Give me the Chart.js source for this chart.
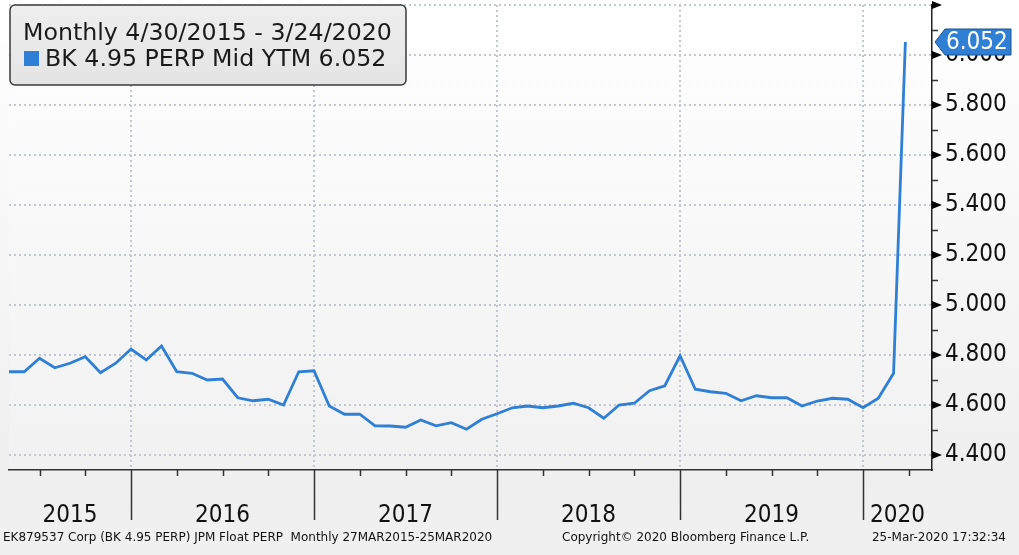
<!DOCTYPE html>
<html>
<head>
<meta charset="utf-8">
<script src="https://cdn.jsdelivr.net/npm/chart.js@4.4.1/dist/chart.umd.min.js"></script>
<style>
  html, body { margin: 0; padding: 0; background: #f0f0f0; }
  #wrap { width: 1019px; height: 555px; position: relative; }
</style>
</head>
<body>
<div id="wrap"><canvas id="chart" width="1019" height="555"></canvas></div>
<script>
// month-end observations, BK 4.95 PERP mid YTM
const dates = [
  "2015-04-30", "2015-05-31", "2015-06-30", "2015-07-31", "2015-08-31", "2015-09-30",
  "2015-10-31", "2015-11-30", "2015-12-31",
  "2016-01-31", "2016-02-29", "2016-03-31", "2016-04-30", "2016-05-31", "2016-06-30",
  "2016-07-31", "2016-08-31", "2016-09-30", "2016-10-31", "2016-11-30", "2016-12-31",
  "2017-01-31", "2017-02-28", "2017-03-31", "2017-04-30", "2017-05-31", "2017-06-30",
  "2017-07-31", "2017-08-31", "2017-09-30", "2017-10-31", "2017-11-30", "2017-12-31",
  "2018-01-31", "2018-02-28", "2018-03-31", "2018-04-30", "2018-05-31", "2018-06-30",
  "2018-07-31", "2018-08-31", "2018-09-30", "2018-10-31", "2018-11-30", "2018-12-31",
  "2019-01-31", "2019-02-28", "2019-03-31", "2019-04-30", "2019-05-31", "2019-06-30",
  "2019-07-31", "2019-08-31", "2019-09-30", "2019-10-31", "2019-11-30", "2019-12-31",
  "2020-01-31", "2020-02-29", "2020-03-24"
];
const ytm = [
  4.733, 4.733, 4.787, 4.749, 4.767, 4.793, 4.729, 4.767, 4.824,
  4.780, 4.836, 4.733, 4.727, 4.700, 4.704, 4.629, 4.617, 4.623, 4.600, 4.733, 4.737,
  4.596, 4.563, 4.563, 4.517, 4.516, 4.511, 4.540, 4.517, 4.529, 4.503, 4.543, 4.565,
  4.589, 4.596, 4.589, 4.596, 4.607, 4.589, 4.547, 4.600, 4.607, 4.657, 4.677, 4.797,
  4.663, 4.653, 4.647, 4.617, 4.637, 4.629, 4.629, 4.596, 4.616, 4.627, 4.623, 4.589,
  4.627, 4.727, 6.052
];
const years = [2015, 2016, 2017, 2018, 2019, 2020];
const legendTitle = "Monthly 4/30/2015 - 3/24/2020";
const seriesName = "BK 4.95 PERP Mid YTM";
const footerLeft = "EK879537 Corp (BK 4.95 PERP) JPM Float PERP  Monthly 27MAR2015-25MAR2020";
const footerMid = "Copyright\u00A9 2020 Bloomberg Finance L.P.";
const footerRight = "25-Mar-2020 17:32:34";

const AXIS_FONT = '"DejaVu Sans Condensed", "DejaVu Sans", sans-serif';
const TEXT_FONT = '"DejaVu Sans", sans-serif';
const BLUE = "#2f7fd4";

// months since 1 Jan 2015 (fractional, month-end = start of next month)
function monthPos(s) {
  const [y, m, d] = s.split("-").map(Number);
  const days = new Date(y, m, 0).getDate();
  return (y - 2015) * 12 + (m - 1) + d / days;
}

const points = dates.map((d, i) => ({ x: monthPos(d), y: ytm[i] }));

const bloombergDecor = {
  id: "bloombergDecor",
  beforeDraw(chart) {
    const { ctx, chartArea: a, width, height } = chart;
    ctx.save();
    const bg = ctx.createLinearGradient(0, 0, 0, height);
    bg.addColorStop(0, "#ffffff");
    bg.addColorStop(0.85, "#efefef");
    bg.addColorStop(1, "#f0f0f0");
    ctx.fillStyle = bg;
    ctx.fillRect(0, 0, width, height);
    const pg = ctx.createLinearGradient(0, a.top, 0, a.bottom);
    pg.addColorStop(0, "#ffffff");
    pg.addColorStop(1, "#f1f1f1");
    ctx.fillStyle = pg;
    ctx.fillRect(a.left, a.top, a.right - a.left, a.bottom - a.top);
    ctx.restore();
  },
  beforeDatasetsDraw(chart) {
    const { ctx, chartArea: a, scales } = chart;
    ctx.save();
    ctx.strokeStyle = "#c3c7d2";
    ctx.lineWidth = 2;
    ctx.setLineDash([2, 3]);
    scales.y.ticks.forEach(t => {
      const y = Math.round(scales.y.getPixelForValue(t.value));
      ctx.beginPath();
      ctx.moveTo(a.left, y);
      ctx.lineTo(a.right, y);
      ctx.stroke();
    });
    years.slice(1).forEach(yr => {
      const x = Math.round(scales.x.getPixelForValue((yr - 2015) * 12));
      ctx.beginPath();
      ctx.moveTo(x, a.top);
      ctx.lineTo(x, a.bottom);
      ctx.stroke();
    });
    ctx.restore();
  },
  afterDraw(chart) {
    const { ctx, chartArea: a, scales } = chart;
    const xs = scales.x, ys = scales.y;
    ctx.save();

    // quarter ticks and year separators under the time axis
    ctx.strokeStyle = "#333";
    ctx.lineWidth = 1.5;
    for (let q = 0; q <= 22; q++) {
      const m = q * 3;
      if (m < xs.min || m > xs.max) continue;
      const x = Math.round(xs.getPixelForValue(m)) + 0.5;
      ctx.beginPath();
      ctx.moveTo(x, a.bottom);
      ctx.lineTo(x, a.bottom + (m % 12 === 0 ? 50 : 6));
      ctx.stroke();
    }
    ctx.fillStyle = "#111";
    ctx.font = "24px " + AXIS_FONT;
    ctx.textAlign = "center";
    ctx.textBaseline = "alphabetic";
    years.forEach(yr => {
      const x0 = Math.max(xs.getPixelForValue((yr - 2015) * 12), a.left);
      const x1 = Math.min(xs.getPixelForValue((yr - 2014) * 12), a.right);
      ctx.fillText(String(yr), (x0 + x1) / 2, a.bottom + 52);
    });

    // right axis markers: arrow heads on major ticks, short minor ticks
    ctx.fillStyle = "#000";
    ys.ticks.forEach(t => {
      const y = ys.getPixelForValue(t.value);
      ctx.beginPath();
      ctx.moveTo(a.right, y - 4);
      ctx.lineTo(a.right + 10, y);
      ctx.lineTo(a.right, y + 4);
      ctx.closePath();
      ctx.fill();
      const ym = ys.getPixelForValue(t.value - 0.1);
      if (ym < a.bottom) {
        ctx.beginPath();
        ctx.moveTo(a.right, Math.round(ym) + 0.5);
        ctx.lineTo(a.right + 6, Math.round(ym) + 0.5);
        ctx.stroke();
      }
    });

    // last value tag
    const last = ytm[ytm.length - 1];
    const ty = ys.getPixelForValue(last);
    ctx.beginPath();
    ctx.moveTo(a.right + 3, ty);
    ctx.lineTo(a.right + 13, ty - 13);
    ctx.lineTo(1011, ty - 13);
    ctx.lineTo(1011, ty + 13);
    ctx.lineTo(a.right + 13, ty + 13);
    ctx.closePath();
    ctx.fillStyle = BLUE;
    ctx.fill();
    ctx.strokeStyle = "#1d548f";
    ctx.lineWidth = 1;
    ctx.stroke();
    ctx.fillStyle = "#fff";
    ctx.font = "24px " + AXIS_FONT;
    ctx.textAlign = "left";
    ctx.textBaseline = "middle";
    ctx.fillText(last.toFixed(3), a.right + 14, ty + 1);

    // legend box
    const bx = 10, by = 5, bw = 396, bh = 80;
    ctx.beginPath();
    ctx.roundRect(bx, by, bw, bh, 5);
    const lg = ctx.createLinearGradient(0, by, 0, by + bh);
    lg.addColorStop(0, "#eeeeee");
    lg.addColorStop(1, "#e4e4e4");
    ctx.fillStyle = lg;
    ctx.fill();
    ctx.strokeStyle = "#3a3a3a";
    ctx.lineWidth = 1.5;
    ctx.stroke();
    ctx.fillStyle = "#1a1a1a";
    ctx.font = "23.7px " + TEXT_FONT;
    ctx.textBaseline = "alphabetic";
    ctx.fillText(legendTitle, 23, 40);
    ctx.fillStyle = BLUE;
    ctx.fillRect(24, 51, 15, 15);
    ctx.fillStyle = "#1a1a1a";
    ctx.fillText(seriesName + " " + last.toFixed(3), 45, 66);

    // footer
    ctx.font = "12px " + TEXT_FONT;
    ctx.fillStyle = "#111";
    ctx.fillText(footerLeft, 3, 541);
    ctx.fillText(footerMid, 562, 541);
    ctx.textAlign = "right";
    ctx.fillText(footerRight, 1006, 541);
    ctx.restore();
  }
};

new Chart(document.getElementById("chart"), {
  type: "line",
  data: {
    datasets: [{
      label: seriesName,
      data: points,
      borderColor: BLUE,
      borderWidth: 2.8,
      pointRadius: 0,
      tension: 0,
      clip: false
    }]
  },
  options: {
    responsive: false,
    animation: false,
    layout: { padding: { left: 9, top: 5, right: 0, bottom: 0 } },
    plugins: { legend: { display: false }, tooltip: { enabled: false } },
    scales: {
      x: {
        type: "linear",
        min: 4,
        max: 64.52,
        grid: { display: false, drawTicks: false },
        ticks: { display: false },
        border: { display: true, color: "#333", width: 1.5 },
        afterFit: s => { s.height = 85; s.paddingLeft = 0; s.paddingRight = 0; }
      },
      y: {
        position: "right",
        min: 4.34,
        max: 6.2,
        grid: { display: false, drawTicks: false },
        border: { display: true, color: "#222", width: 1.5 },
        ticks: {
          stepSize: 0.2,
          includeBounds: false,
          padding: 13,
          color: "#111",
          font: { family: AXIS_FONT, size: 24 },
          callback: v => (v > 6.1 ? "" : v.toFixed(3))
        },
        afterFit: s => { s.width = 87; s.paddingTop = 0; s.paddingBottom = 0; }
      }
    }
  },
  plugins: [bloombergDecor]
});
</script>
</body>
</html>
